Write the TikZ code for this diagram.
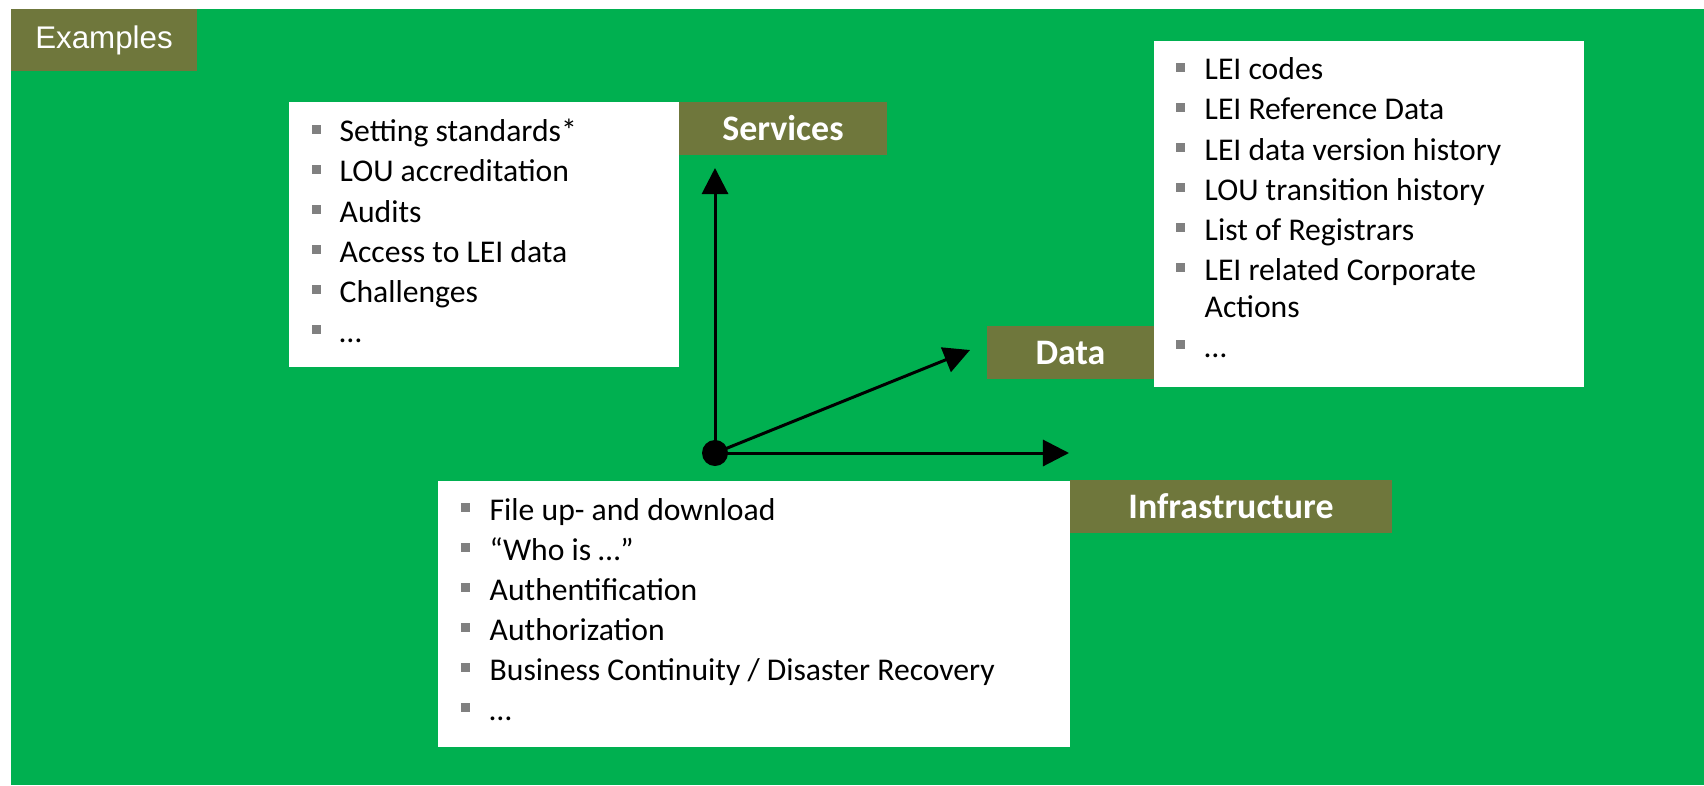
\documentclass[tikz,border=0pt]{standalone}
\usepackage{fontspec}
\setmainfont{Carlito}
\newfontfamily\arialfont{Liberation Sans}
\usetikzlibrary{arrows.meta}
\definecolor{leigreen}{RGB}{0,176,80}
\definecolor{tagolive}{RGB}{111,119,60}
\definecolor{bulletgray}{RGB}{128,128,128}

\begin{document}
\begin{tikzpicture}[x=0.01cm,y=-0.01cm]
\tikzstyle{tag}=[fill=tagolive, text=white, inner sep=0pt, font=\fontsize{10.2}{12}\selectfont\bfseries]
\tikzstyle{item}=[anchor=base west, inner sep=0pt, font=\fontsize{9}{11}\selectfont]
\tikzstyle{bullet}=[fill=bulletgray, inner sep=0pt, minimum size=2.5pt]
\tikzstyle{axis}=[line width=0.85pt, -{Triangle[length=7.4pt,width=7.4pt]}]
\useasboundingbox (0,0) rectangle (1704,785);
\fill [leigreen] (11,9) rectangle (1704,785);
\node [tag, minimum width=1.86cm, minimum height=0.62cm, font=\fontsize{8.9}{11}\selectfont\arialfont] (examples) at (104,40) {Examples};
\fill [white] (289,102) rectangle (679,367);
\fill [white] (1154,41) rectangle (1584,387);
\fill [white] (438,481) rectangle (1070,747);
\node [tag, minimum width=2.08cm, minimum height=0.53cm] (serv) at (783,128.5) {Services};
\node [tag, minimum width=1.67cm, minimum height=0.53cm] (data) at (1070.5,352.5) {Data};
\node [tag, minimum width=3.22cm, minimum height=0.53cm] (infra) at (1231,506.5) {Infrastructure};
\foreach \y/\t [count=\i] in {142/Setting standards*, 182/LOU accreditation, 222/Audits, 262/Access to LEI data, 302/Challenges, 342/…} {
  \node [bullet] (sb\i) at (316.5,{\y-12.5}) {};
  \node [item] (s\i) at (339,\y) {\t};
}
\foreach \y/\t [count=\i] in {80/LEI codes, 120/LEI Reference Data, 160/LEI data version history, 200/LOU transition history, 240/List of Registrars, 280/LEI related Corporate, 357/…} {
  \node [bullet] (db\i) at (1180.5,{\y-12.5}) {};
  \node [item] (d\i) at (1204,\y) {\t};
}
\node [item] (d6b) at (1204,317) {Actions};
\foreach \y/\t [count=\i] in {520/File up- and download, 560/“Who is …”, 600/Authentification, 640/Authorization, 680/{Business Continuity / Disaster Recovery}, 720/…} {
  \node [bullet] (ib\i) at (465.5,{\y-12.5}) {};
  \node [item] (i\i) at (489,\y) {\t};
}
\node [circle, fill=black, inner sep=0pt, minimum size=7.4pt] (hub) at (715,453) {};
\coordinate (servtip) at (715,168);
\coordinate (datatip) at (970,350);
\coordinate (infratip) at (1069,453);
\draw [axis] (hub.center) -- (servtip);
\draw [axis] (hub.center) -- (datatip);
\draw [axis] (hub.center) -- (infratip);
\end{tikzpicture}
\end{document}
